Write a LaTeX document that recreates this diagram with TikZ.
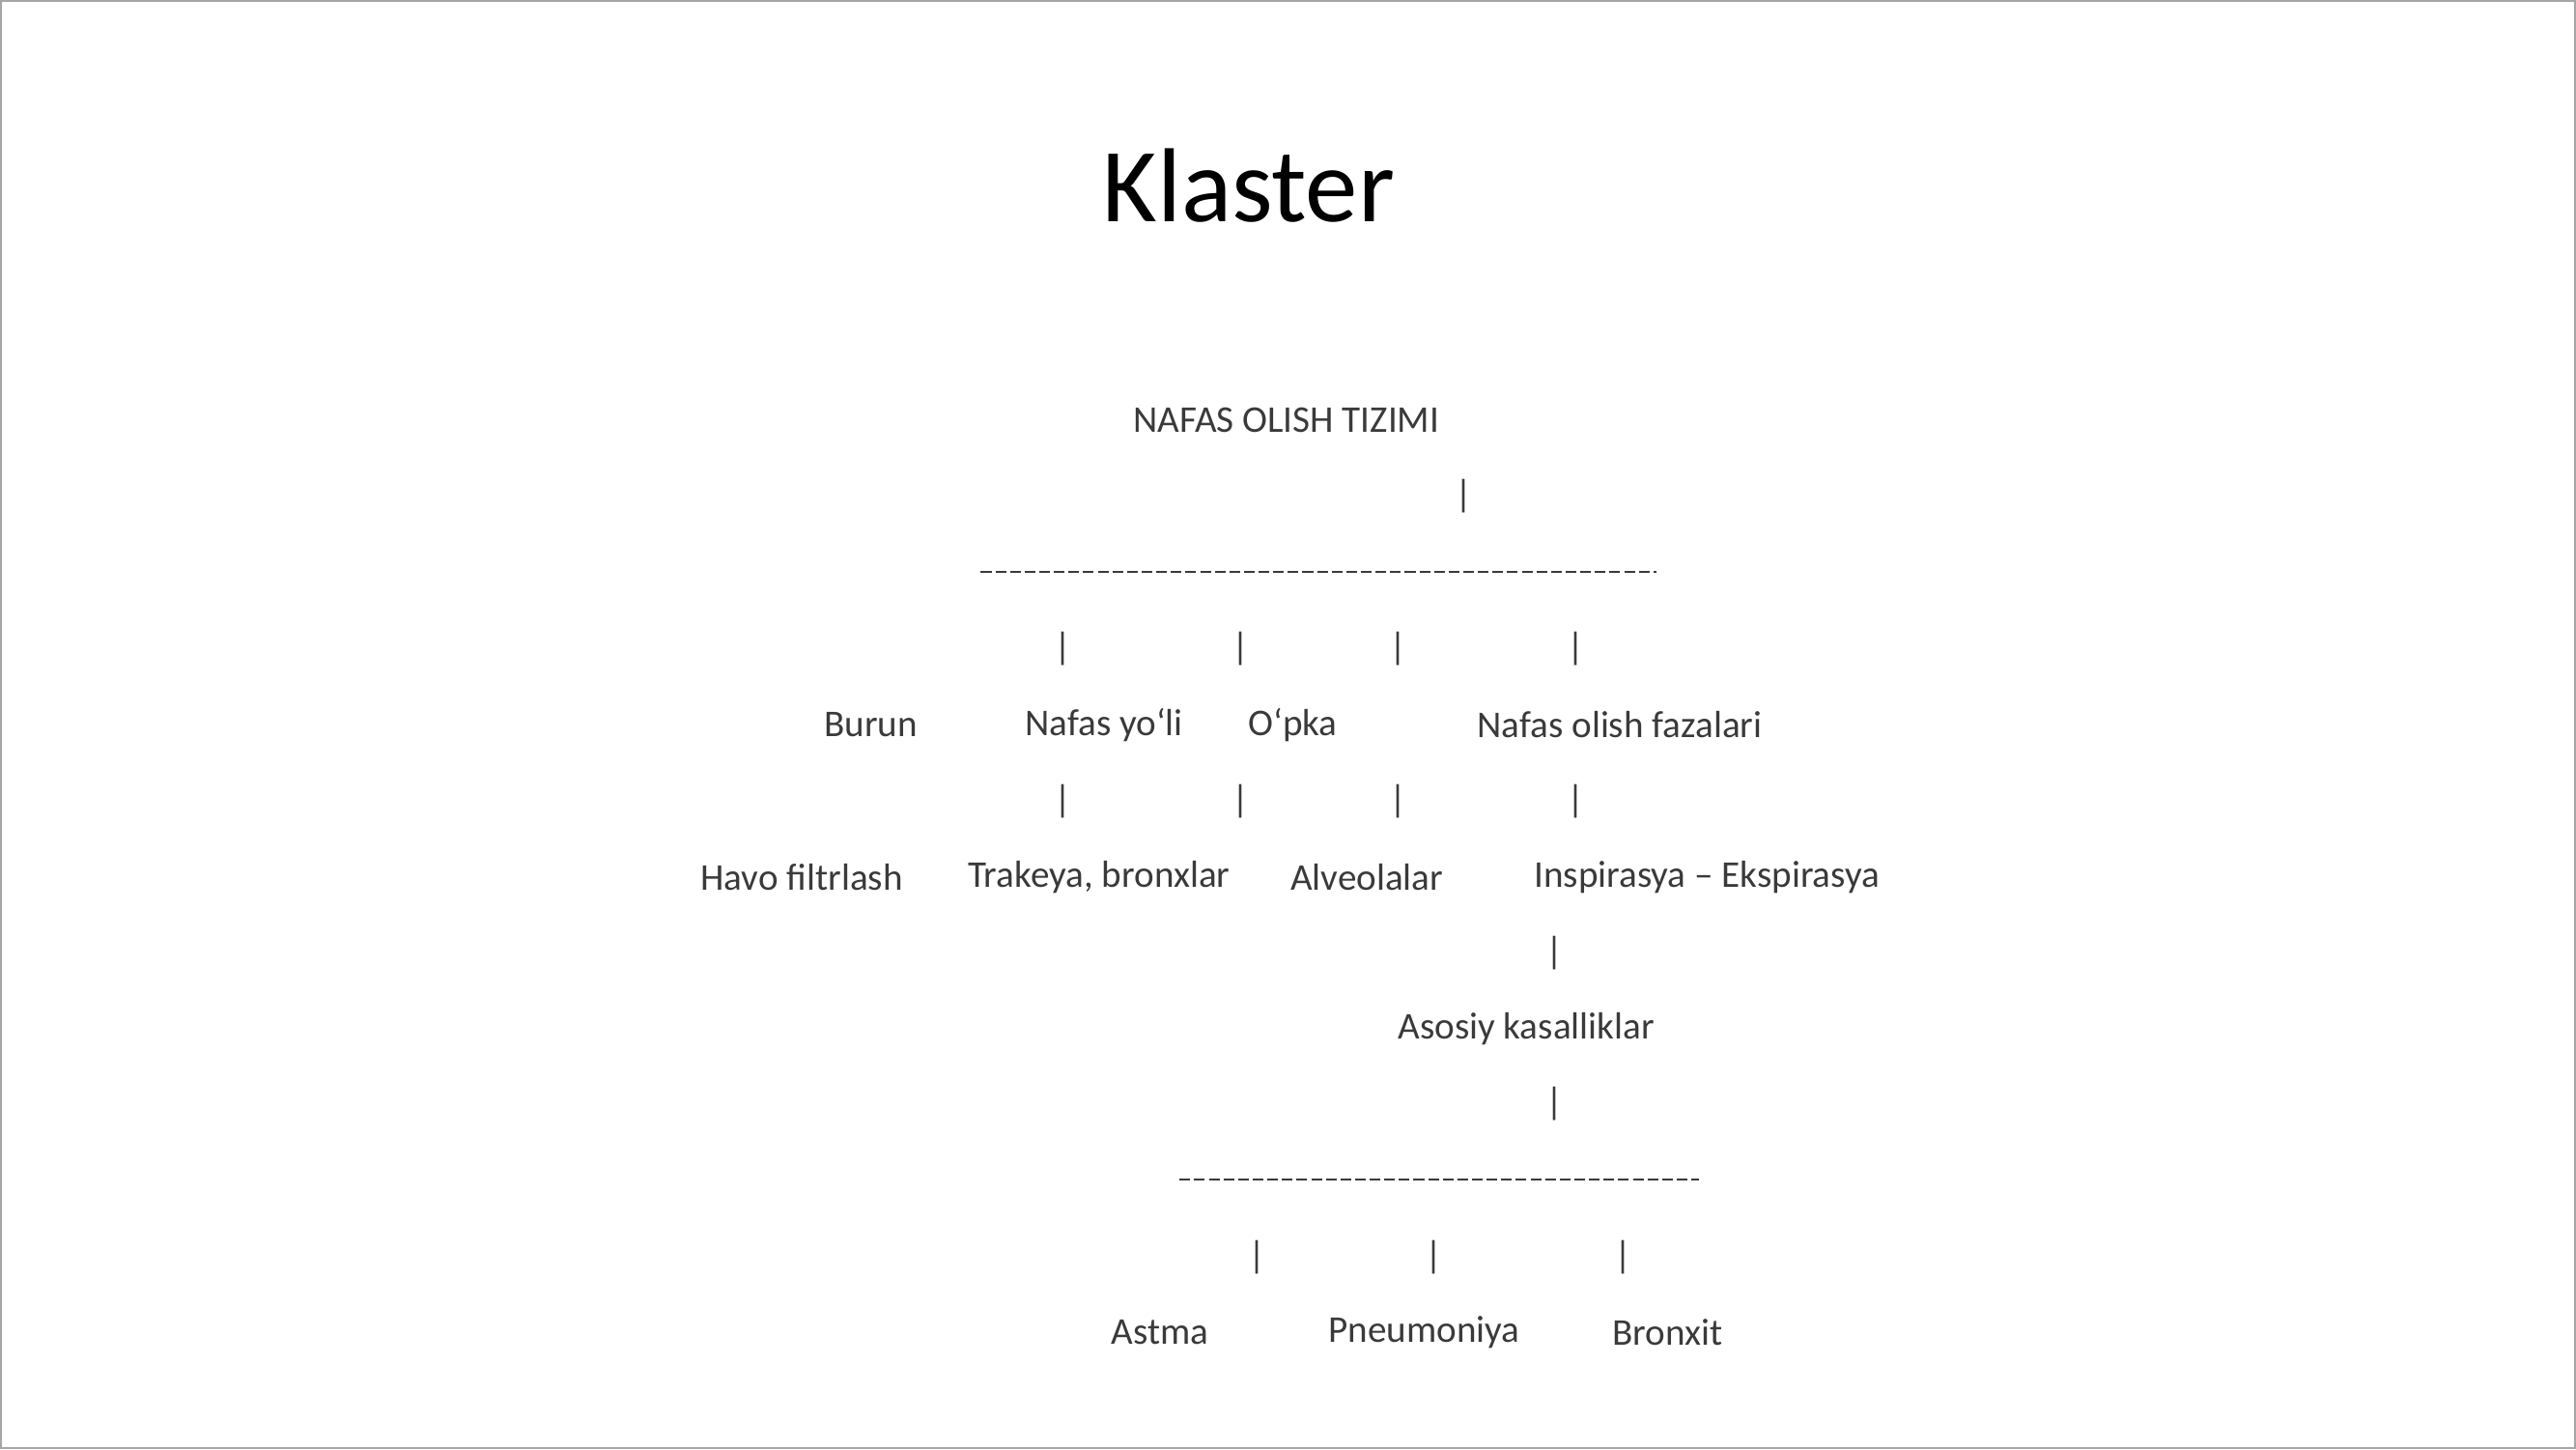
\documentclass[tikz,border=0pt]{standalone}
\usepackage{fontspec}
\setmainfont{Carlito}
\definecolor{txt}{HTML}{3A3A3A}
\begin{document}
\begin{tikzpicture}[x=1pt,y=-1pt,
  t/.style={text=txt,font=\fontsize{23}{26}\selectfont,inner sep=0pt,anchor=center},
  bar/.style={t},
  hyph/.style={draw=txt,line width=1pt,dash pattern=on 6.5pt off 2.4pt}]
\useasboundingbox (0,0) rectangle (1568,882);
\draw[gray!70,line width=1pt] (0.5,0.5) rectangle (1567.5,881.5);
\node[text=black,font=\fontsize{64}{70}\selectfont,inner sep=0pt] (title) at (760,113) {Klaster};
\node[t] (root) at (783,256) {NAFAS OLISH TIZIMI};
\node[bar] (b0) at (891,302) {|};
\coordinate (d1a) at (597,348); \coordinate (d1b) at (1008,348);
\draw[hyph] (d1a) -- (d1b);
\foreach \x [count=\i] in {647,755,851,959}{\node[bar] (u\i) at (\x,395) {|};}
\node[t] (burun) at (530,441) {Burun};
\node[t] (yoli) at (672,441) {Nafas yo‘li};
\node[t] (opka) at (787,441) {O‘pka};
\node[t] (faza) at (986,441) {Nafas olish fazalari};
\foreach \x [count=\i] in {647,755,851,959}{\node[bar] (v\i) at (\x,488) {|};}
\node[t] (havo) at (488,534) {Havo filtrlash};
\node[t] (trak) at (669,534) {Trakeya, bronxlar};
\node[t] (alv) at (832,534) {Alveolalar};
\node[t] (insp) at (1039,534) {Inspirasya – Ekspirasya};
\node[bar] (w1) at (946,580) {|};
\node[t] (kas) at (929,626) {Asosiy kasalliklar};
\node[bar] (w2) at (946,672) {|};
\coordinate (d2a) at (718,718); \coordinate (d2b) at (1034,718);
\draw[hyph] (d2a) -- (d2b);
\foreach \x [count=\i] in {765,873,988}{\node[bar] (z\i) at (\x,765) {|};}
\node[t] (astma) at (706,811) {Astma};
\node[t] (pneu) at (867,811) {Pneumoniya};
\node[t] (bronx) at (1015,811) {Bronxit};
\end{tikzpicture}
\end{document}
